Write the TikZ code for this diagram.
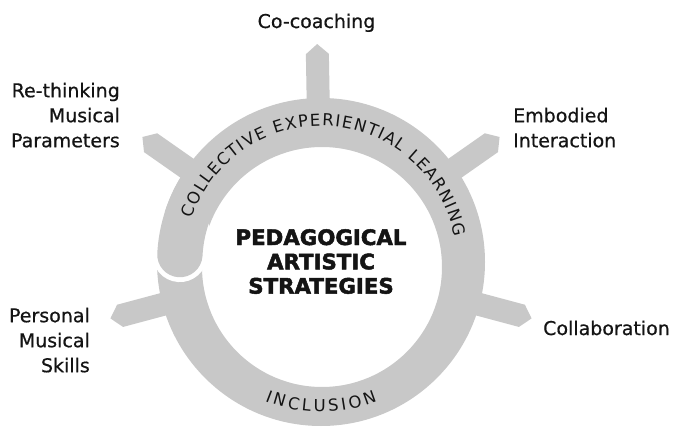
\documentclass[tikz,border=0pt]{standalone}
\usepackage{fontspec}
\setmainfont{DejaVu Sans}
\newfontfamily\arcfont{DejaVu Sans}
\newfontfamily\labelfont{DejaVu Sans}[FakeBold=0.6]
\newfontfamily\titlefont{DejaVu Sans}[BoldFeatures={FakeBold=2.2}]
\usetikzlibrary{decorations.text}
\definecolor{ringgrey}{RGB}{200,200,200}
\definecolor{ink}{RGB}{20,20,20}
\tikzset{
  spoke/.style={fill=ringgrey},
  label/.style={text=ink, inner sep=0pt, font=\labelfont\fontsize{19}{25}\selectfont},
  titletext/.style={text=ink, inner sep=0pt, align=center, font=\titlefont\bfseries\fontsize{21.3}{24.3}\selectfont},
  arctext/.style={decorate, decoration={text along path, text align={fit to path}, text color=ink}}
}
\begin{document}
\begin{tikzpicture}[x=1pt,y=1pt]
\useasboundingbox (-321,-166) rectangle (353,262);
\fill[white] (-321,-166) rectangle (353,262);
% spokes
\foreach \a in {91,35,145,-15,195}
  \fill[spoke, rotate=\a] (130,-11.5) -- (208,-11.5) -- (218,0) -- (208,11.5) -- (130,11.5) -- cycle;
% ring
\fill[ringgrey, even odd rule] (0,0) circle[radius=164] (1,-5) circle[radius=120];
% gap at the end of the upper arc
\draw[white, line width=55pt, line cap=round] (177:141.3) arc[start angle=177, end angle=168, radius=141.3];
\draw[ringgrey, line width=45.3pt, line cap=round] (177:141.3) arc[start angle=177, end angle=150, radius=141.3];
% arc texts
\path[arctext, decoration={text={|\arcfont\fontsize{16.5}{16.5}\selectfont|COLLECTIVE EXPERIENTIAL LEARNING}}]
  (161.5:136) arc[start angle=161.5, end angle=10.5, radius=136];
\path[arctext, decoration={text={|\arcfont\fontsize{16.5}{16.5}\selectfont|INCLUSION}}]
  (248:150) arc[start angle=248, end angle=292, radius=150];
% centre
\node[titletext, anchor=north] (title) at (0,33) {PEDAGOGICAL\\ARTISTIC\\STRATEGIES};
% labels
\node[label, anchor=base] (cocoach) at (-4.5,234) {Co-coaching};
\node[label, align=right, anchor=north east] (rethink) at (-201,179.4) {Re-thinking\\Musical\\Parameters};
\node[label, align=left, anchor=north west] (embodied) at (192,154.4) {Embodied\\Interaction};
\node[label, align=right, anchor=north east] (personal) at (-231,-45.6) {Personal\\Musical\\Skills};
\node[label, anchor=base west] (collab) at (222,-73) {Collaboration};
\end{tikzpicture}
\end{document}
